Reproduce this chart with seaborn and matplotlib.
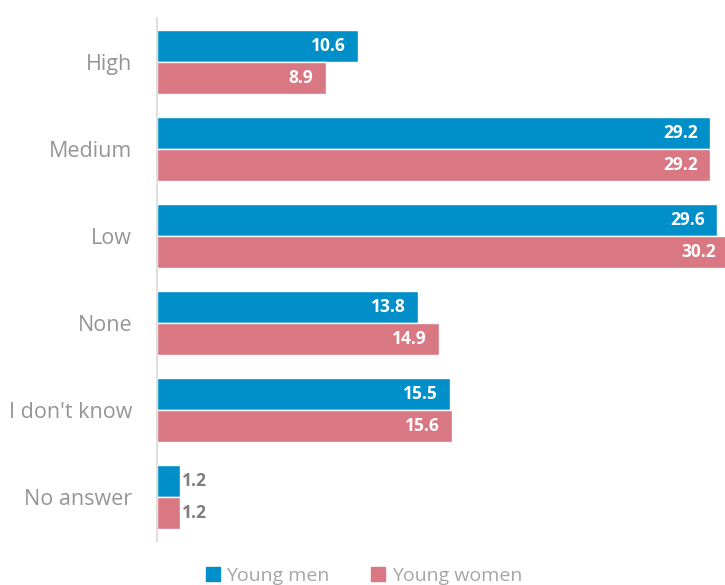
import matplotlib
matplotlib.use("Agg")
import matplotlib.pyplot as plt
import seaborn as sns
import pandas as pd
from matplotlib.lines import Line2D

categories = ["High", "Medium", "Low", "None", "I don't know", "No answer"]
young_men = [10.6, 29.2, 29.6, 13.8, 15.5, 1.2]
young_women = [8.9, 29.2, 30.2, 14.9, 15.6, 1.2]
series = ["Young men", "Young women"]
colors = ["#008FC8", "#D97783"]

df = pd.DataFrame({
    "category": categories * 2,
    "value": young_men + young_women,
    "group": [series[0]] * len(categories) + [series[1]] * len(categories),
})

sns.set_theme(style="white")
plt.rcParams["font.family"] = ["Open Sans", "DejaVu Sans"]

fig = plt.figure(figsize=(7.25, 5.85), dpi=100)
ax = fig.add_axes([157 / 725, 44 / 585, (725 - 157) / 725, 523 / 585])

sns.barplot(data=df, y="category", x="value", hue="group", orient="h",
            order=categories, hue_order=series, palette=colors,
            width=0.735, saturation=1, ax=ax, legend=False)

ax.set_xlim(0, 30.0)
ax.set_ylim(5.5, -0.5)
ax.set_xlabel("")
ax.set_ylabel("")
ax.set_xticks([])
for s in ["top", "right", "bottom"]:
    ax.spines[s].set_visible(False)
ax.spines["left"].set_color("#D9D9D9")
ax.spines["left"].set_linewidth(1.2)
ax.tick_params(axis="y", length=0, pad=18, labelsize=15.5, labelcolor="#959595")

for container in ax.containers:
    for bar in container:
        bar.set_clip_on(False)
        w = bar.get_width()
        yc = bar.get_y() + bar.get_height() / 2
        label = f"{w:.1f}"
        if w > 5:
            ax.text(w - 0.65, yc, label, ha="right", va="center", color="white",
                    fontsize=12.5, fontweight="bold")
        else:
            ax.text(w + 0.1, yc, label, ha="left", va="center", color="#7F7F7F",
                    fontsize=12.5, fontweight="bold")

handles = [Line2D([0], [0], marker="s", linestyle="none", markersize=10,
                  markerfacecolor=c, markeredgecolor=c) for c in colors]
fig.legend(handles, series, loc="lower center", bbox_to_anchor=(0.5, -0.03),
           ncol=2, frameon=False, fontsize=14, labelcolor="#A6A6A6",
           handletextpad=0.2, columnspacing=2.0, handlelength=1.0)

fig.savefig("out.png", dpi=100)
